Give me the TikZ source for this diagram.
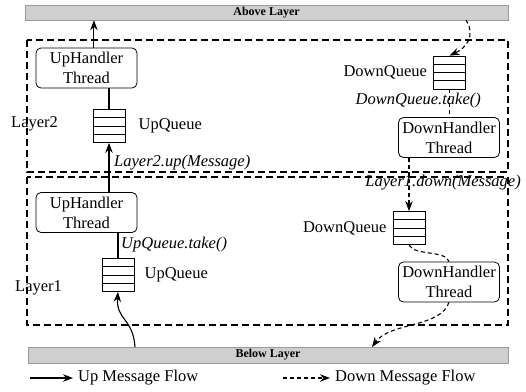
\documentclass[tikz,border=0pt]{standalone}
\usepackage{fontspec}
\setmainfont{Liberation Serif}
\usetikzlibrary{arrows.meta,positioning,calc}
\definecolor{barfill}{HTML}{CFCFCF}
\definecolor{bardraw}{HTML}{9A9A9A}
\tikzset{
  handler/.style={draw, rounded corners=5pt, minimum width=101pt, minimum height=40pt,
    align=center, inner sep=1pt, line width=0.8pt},
  queue/.style={draw, minimum width=32pt, minimum height=33pt, inner sep=0pt, line width=0.8pt,
    path picture={\foreach \f in {0.25,0.5,0.75}
      \draw[line width=0.6pt] ($(path picture bounding box.north west)!\f!(path picture bounding box.south west)$)
        -- ($(path picture bounding box.north east)!\f!(path picture bounding box.south east)$);}},
  layerbox/.style={dashed, dash pattern=on 7pt off 4pt, line width=1.6pt},
  bar/.style={fill=barfill, draw=bardraw, inner sep=0pt, font=\fontsize{12}{14}\selectfont\bfseries},
  lbl/.style={inner sep=0pt},
  ital/.style={lbl, font=\fontsize{16.5}{19}\selectfont\itshape},
  upflow/.style={->, line width=1.1pt},
  downflow/.style={->, dashed, dash pattern=on 4pt off 3pt, line width=1.1pt},
}

\begin{document}
\begin{tikzpicture}[x=1pt, y=-1pt, >={Stealth[length=10pt,width=7.5pt]}, font=\fontsize{16.5}{20}\selectfont]
  \useasboundingbox (0,0) rectangle (526,391);
  \node[bar, minimum width=483pt, minimum height=15pt] (above) at (266.5,12.5) {Above Layer};
  \node[bar, minimum width=480pt, minimum height=16pt] (below) at (268,355) {Below Layer};
  \draw[layerbox] (27,40) rectangle (508,172);
  \draw[layerbox] (27,177) rectangle (508,325);

  \node[handler] (uh2) at (86.5,68) {UpHandler\\Thread};
  \node[queue] (uq2) at (109,126) {};
  \node[handler] (uh1) at (86.5,212.5) {UpHandler\\Thread};
  \node[queue] (uq1) at (118,275) {};
  \node[queue] (dq2) at (449.5,72.5) {};
  \node[handler] (dh2) at (449,137.5) {DownHandler\\Thread};
  \node[queue] (dq1) at (409,228) {};
  \node[handler] (dh1) at (449,282) {DownHandler\\Thread};

  \node[lbl, anchor=west] (l2) at (11,124) {Layer2};
  \node[lbl, anchor=west] (l1) at (15,288) {Layer1};
  \node[lbl, right=13pt of uq2] (uq2txt) {UpQueue};
  \node[lbl, right=10pt of uq1] (uq1txt) {UpQueue};
  \node[lbl, left=6pt of dq2] (dq2txt) {DownQueue};
  \node[lbl, left=6pt of dq1] (dq1txt) {DownQueue};
  \node[ital, anchor=west] (upcall) at (114,163) {Layer2.up(Message)};
  \node[ital, anchor=west] (uptake) at (121,245) {UpQueue.take()};
  \node[ital, anchor=east] (downtake) at (481,101) {DownQueue.take()};
  \node[ital, anchor=east] (downcall) at (521,183) {Layer1.down(Message)};

  \coordinate (upsrc) at (135,347);
  \coordinate (downsrc) at (466,20);
  \coordinate (downdst) at (372,347);

  \draw[upflow] (uh2.70) -- (uh2.70 |- above.south);
  \draw[line width=1.1pt] (uq2.north) -- (uq2.north |- uh2.south);
  \draw[upflow] (uq2.south |- uh1.north) -- (uq2.south);
  \draw[line width=1.1pt] (uq1.north) -- (uq1.north |- uh1.south);
  \draw[upflow] (upsrc) .. controls (133,318) and (116,320) .. (uq1.south);

  \draw[downflow] (downsrc) .. controls (476,36) and (466,48) .. (dq2.north);
  \draw[dashed, dash pattern=on 4pt off 3pt, line width=1.1pt] (dq2.south) -- (dq2.south |- dh2.north);
  \draw[downflow] (dq1.north |- dh2.south) -- (dq1.north);
  \draw[dashed, dash pattern=on 4pt off 3pt, line width=1.1pt] (dq1.south) .. controls (414,256) and (446,250) .. (dh1.north);
  \draw[downflow] (dh1.south) .. controls (440,328) and (390,322) .. (downdst);

  \coordinate (leg1a) at (30,378);
  \coordinate (leg1b) at (73,378);
  \coordinate (leg2a) at (283,378);
  \coordinate (leg2b) at (330,378);
  \draw[upflow] (leg1a) -- (leg1b);
  \node[lbl, right=5pt of leg1b] (leg1) {Up Message Flow};
  \draw[downflow] (leg2a) -- (leg2b);
  \node[lbl, right=5pt of leg2b] (leg2) {Down Message Flow};
\end{tikzpicture}
\end{document}
